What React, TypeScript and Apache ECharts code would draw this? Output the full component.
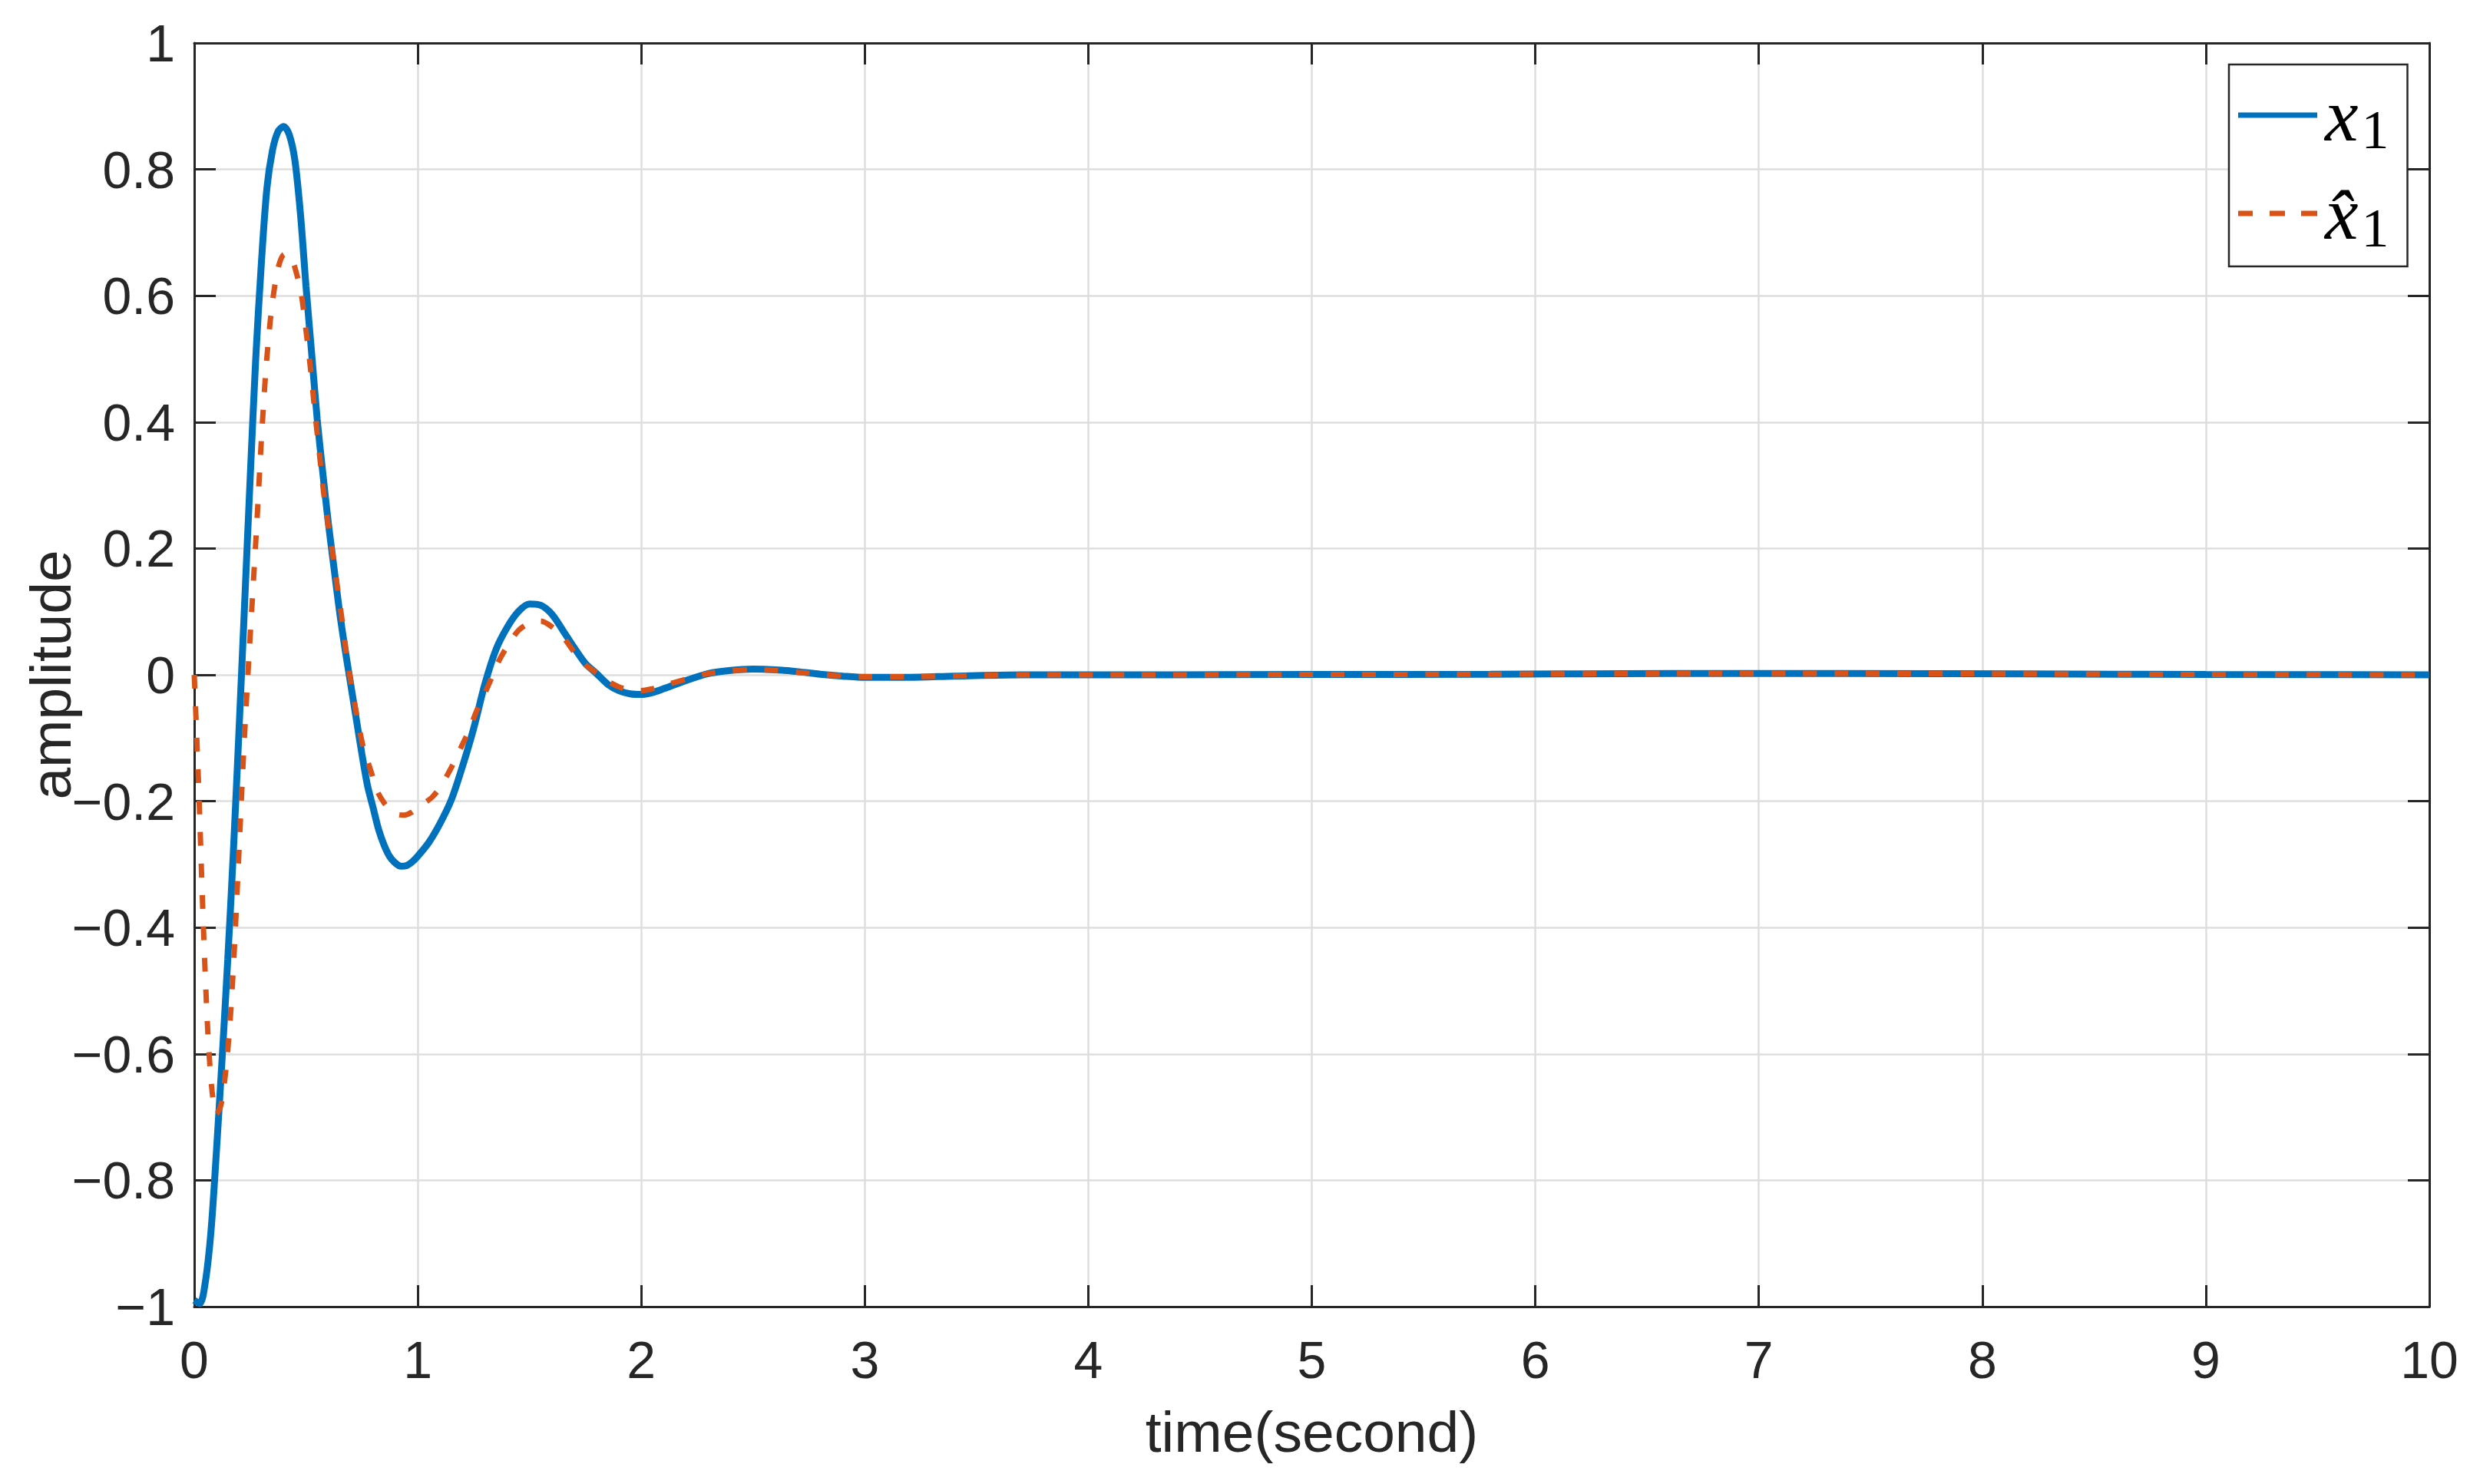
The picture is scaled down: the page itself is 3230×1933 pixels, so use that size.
import { useEffect, useRef } from 'react';
import * as echarts from 'echarts';

// x1 (true state): [time, amplitude]
const x1Data: [number, number][] = [
  [0, -0.99], [0.025, -0.995], [0.05, -0.96], [0.075, -0.88], [0.1, -0.75],
  [0.125, -0.605], [0.15, -0.45], [0.175, -0.28], [0.2, -0.09], [0.225, 0.11],
  [0.25, 0.31], [0.275, 0.5], [0.3, 0.65], [0.325, 0.77], [0.35, 0.83],
  [0.375, 0.86], [0.4, 0.868], [0.425, 0.855], [0.45, 0.815], [0.475, 0.73],
  [0.5, 0.615], [0.525, 0.51], [0.55, 0.405], [0.575, 0.32], [0.6, 0.24],
  [0.625, 0.17], [0.65, 0.1], [0.675, 0.04], [0.7, -0.015], [0.725, -0.07],
  [0.75, -0.125], [0.775, -0.175], [0.8, -0.21], [0.825, -0.245], [0.85, -0.27],
  [0.875, -0.288], [0.9, -0.298], [0.925, -0.303], [0.95, -0.302], [0.975, -0.296],
  [1.0, -0.287], [1.05, -0.265], [1.1, -0.235], [1.15, -0.198], [1.2, -0.145],
  [1.25, -0.085], [1.3, -0.015], [1.35, 0.04], [1.4, 0.075], [1.45, 0.1],
  [1.5, 0.112], [1.55, 0.11], [1.6, 0.096], [1.65, 0.07], [1.7, 0.043],
  [1.75, 0.018], [1.8, 0.002], [1.85, -0.015], [1.9, -0.025], [1.95, -0.03],
  [2.0, -0.031], [2.05, -0.028], [2.1, -0.022], [2.2, -0.009], [2.3, 0.002],
  [2.4, 0.007], [2.5, 0.009], [2.6, 0.008], [2.7, 0.005], [2.8, 0.001],
  [2.9, -0.002], [3.0, -0.004], [3.2, -0.004], [3.4, -0.002], [3.7, 0],
  [4.2, 0], [5.0, 0.0005], [5.8, 0.001], [6.6, 0.002], [7.4, 0.002],
  [8.2, 0.0015], [9.0, 0.0005], [10, 0],
];

// x1 hat (estimate)
const x1HatData: [number, number][] = [
  [0, 0], [0.02, -0.18], [0.04, -0.39], [0.06, -0.56], [0.08, -0.66],
  [0.1, -0.695], [0.12, -0.68], [0.14, -0.63], [0.16, -0.55], [0.18, -0.43],
  [0.2, -0.28], [0.22, -0.13], [0.24, 0], [0.26, 0.12], [0.28, 0.24],
  [0.3, 0.37], [0.32, 0.48], [0.34, 0.56], [0.36, 0.615], [0.38, 0.65],
  [0.4, 0.665], [0.42, 0.666], [0.44, 0.655], [0.46, 0.632], [0.48, 0.6],
  [0.5, 0.545], [0.52, 0.485], [0.54, 0.415], [0.56, 0.35], [0.58, 0.285],
  [0.6, 0.235], [0.62, 0.19], [0.64, 0.14], [0.66, 0.09], [0.68, 0.035],
  [0.7, -0.01], [0.72, -0.05], [0.74, -0.088], [0.76, -0.12], [0.78, -0.141],
  [0.8, -0.163], [0.82, -0.185], [0.85, -0.203], [0.88, -0.215], [0.91, -0.221],
  [0.94, -0.222], [0.97, -0.218], [1.0, -0.21], [1.03, -0.203], [1.066, -0.193],
  [1.1, -0.178], [1.13, -0.16], [1.16, -0.14], [1.2, -0.11], [1.232, -0.086],
  [1.26, -0.06], [1.298, -0.031], [1.33, -0.005], [1.36, 0.02], [1.4, 0.045],
  [1.45, 0.07], [1.5, 0.082], [1.55, 0.085], [1.6, 0.076], [1.65, 0.06],
  [1.7, 0.036], [1.75, 0.016], [1.8, 0.003], [1.85, -0.01], [1.9, -0.019],
  [1.95, -0.024], [2.0, -0.025], [2.05, -0.022], [2.1, -0.017], [2.2, -0.007],
  [2.3, 0.002], [2.4, 0.006], [2.5, 0.008], [2.6, 0.007], [2.7, 0.004],
  [2.8, 0.001], [2.9, -0.002], [3.0, -0.003], [3.2, -0.003], [3.4, -0.002],
  [3.7, 0], [4.2, 0], [5.0, 0.0005], [5.8, 0.001], [6.6, 0.002],
  [7.4, 0.002], [8.2, 0.0015], [9.0, 0.0005], [10, 0],
];

const seriesNames = ['x1', 'x1hat'];
const xTitle = 'time(second)';
const yTitle = 'amplitude';

const BLUE = '#0072BD';
const ORANGE = '#D95319';
const AXIS = '#262626';
const GRID = '#dedede';
const FONT = '"Liberation Sans", Arial, Helvetica, sans-serif';
const MATH = '"Liberation Serif", "DejaVu Serif", serif';

// legend samples: solid bar and three dashes, 103 x 7
const SOLID_ICON = 'path://M0,0H103V7H0Z';
const DASH_ICON = 'path://M0,0H19V7H0Z M41,0H61V7H41Z M82,0H103V7H82Z';

const App = () => {
  const chartRef = useRef<HTMLDivElement>(null);

  useEffect(() => {
    if (!chartRef.current) return;
    const chart = echarts.init(chartRef.current, undefined, { renderer: 'svg' });

    const yFmt = (v: number) => {
      const r = Math.round(v * 10) / 10;
      return r < 0 ? '\u2212' + String(Math.abs(r)) : String(r);
    };

    const frameAxis = {
      axisLine: { show: true, onZero: false, lineStyle: { color: AXIS, width: 3 } },
      axisTick: { show: true, inside: true, length: 28, lineStyle: { color: AXIS, width: 3 } },
      axisLabel: { show: false },
      splitLine: { show: false },
    };

    const option: echarts.EChartsOption = {
      animation: false,
      backgroundColor: '#ffffff',
      grid: { left: 253, right: 66, top: 56, bottom: 231 },
      legend: {
        orient: 'vertical',
        left: 2903,
        top: 84,
        padding: [11, 24, 14, 12],
        itemGap: 18,
        itemWidth: 103,
        itemHeight: 7,
        backgroundColor: '#ffffff',
        borderColor: AXIS,
        borderWidth: 2.5,
        borderRadius: 0,
        itemStyle: { borderWidth: 0 },
        data: [
          { name: seriesNames[0], icon: SOLID_ICON, itemStyle: { color: BLUE } },
          { name: seriesNames[1], icon: DASH_ICON, itemStyle: { color: ORANGE } },
        ],
        formatter: (name: string) =>
          name === 'x1' ? '{x|x}{s|1}' : '{x|x\u0302}{s|1}',
        textStyle: {
          color: '#000',
          rich: {
            x: {
              fontFamily: MATH,
              fontStyle: 'italic',
              fontSize: 98,
              lineHeight: 110,
              padding: [0, 0, 0, 5],
              color: '#000',
            },
            s: {
              fontFamily: MATH,
              fontSize: 72,
              lineHeight: 72,
              padding: [38, 0, 0, 4],
              color: '#000',
            },
          },
        },
      },
      xAxis: [
        {
          type: 'value',
          min: 0,
          max: 10,
          interval: 1,
          position: 'bottom',
          name: xTitle,
          nameLocation: 'middle',
          nameGap: 125,
          nameTextStyle: { fontFamily: FONT, fontSize: 75, color: AXIS },
          axisLine: { show: true, onZero: false, lineStyle: { color: AXIS, width: 3 } },
          axisTick: { show: true, inside: true, length: 28, lineStyle: { color: AXIS, width: 3 } },
          axisLabel: { fontFamily: FONT, fontSize: 68, color: AXIS, margin: 35 },
          splitLine: { show: true, lineStyle: { color: GRID, width: 2.5 } },
        },
        { type: 'value', min: 0, max: 10, interval: 1, position: 'top', ...frameAxis },
      ],
      yAxis: [
        {
          type: 'value',
          min: -1,
          max: 1,
          interval: 0.2,
          position: 'left',
          name: yTitle,
          nameLocation: 'middle',
          nameGap: 150,
          nameMoveOverlap: false,
          nameTextStyle: { fontFamily: FONT, fontSize: 75, color: AXIS },
          axisLine: { show: true, onZero: false, lineStyle: { color: AXIS, width: 3 } },
          axisTick: { show: true, inside: true, length: 28, lineStyle: { color: AXIS, width: 3 } },
          axisLabel: { fontFamily: FONT, fontSize: 68, color: AXIS, margin: 25, formatter: yFmt },
          splitLine: { show: true, lineStyle: { color: GRID, width: 2.5 } },
        } as any,
        { type: 'value', min: -1, max: 1, interval: 0.2, position: 'right', ...frameAxis },
      ],
      series: [
        {
          name: 'x1',
          type: 'line',
          data: x1Data,
          symbol: 'none',
          smooth: 0.3,
          lineStyle: { color: BLUE, width: 9 },
          itemStyle: { color: BLUE },
          z: 3,
        },
        {
          name: 'x1hat',
          type: 'line',
          data: x1HatData,
          symbol: 'none',
          smooth: 0.3,
          lineStyle: { color: ORANGE, width: 7, type: [18, 23] },
          itemStyle: { color: ORANGE },
          z: 4,
        },
      ],
    };

    chart.setOption(option);
    return () => {
      chart.dispose();
    };
  }, []);

  return (
    <div
      ref={chartRef}
      style={{ position: 'absolute', left: 0, top: 0, width: 3230, height: 1933 }}
    />
  );
};

export default App;
